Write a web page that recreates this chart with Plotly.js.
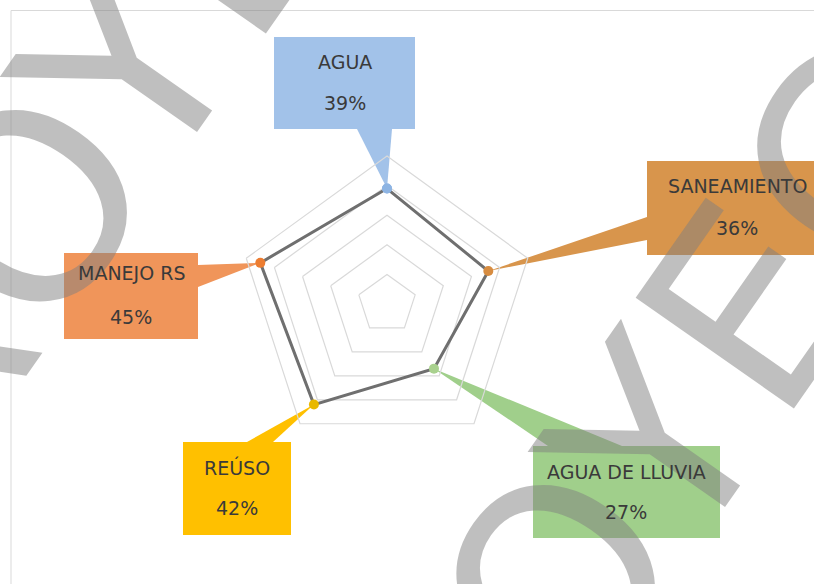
<!DOCTYPE html>
<html>
<head>
<meta charset="utf-8">
<script src="https://cdn.plot.ly/plotly-3.0.1.min.js"></script>
<style>
  html, body { margin: 0; padding: 0; background: #ffffff; }
  #chart { width: 814px; height: 584px; }
</style>
</head>
<body>
<div id="chart"></div>
<script>
// ---- data ----
const categories = ['AGUA', 'SANEAMIENTO', 'AGUA DE LLUVIA', 'REÚSO', 'MANEJO RS'];
const values = [39, 36, 27, 42, 45];
const pointColors = ['#8db4e3', '#d78c40', '#a9d18e', '#e8b800', '#ed7d31'];
const boxColors = ['#a2c2e9', '#d8954c', '#a0cf8b', '#ffc000', '#f0955a'];
const watermarkText = 'PROYECTO';

// ---- layout helpers (positions in pixels) ----
const W = 814, H = 584;
// callout boxes [x0, y0, x1, y1]
const boxes = [
  [274, 37, 415, 129],
  [647, 161, 830, 255],
  [533, 446, 720, 538],
  [183, 442, 291, 535],
  [64, 253, 198, 339]
];
// wedge base points on the box edge
const wedgeBase = [
  [[357, 129], [392, 129]],
  [[647, 217], [647, 240]],
  [[548, 446], [622, 446]],
  [[247, 442], [273, 442]],
  [[198, 265], [198, 287]]
];
// label centers: [x, yName, yValue]
const labelPos = [
  [344.5, 62, 103],
  [737, 186, 228],
  [626, 472, 512],
  [237, 467, 508],
  [131, 273, 317]
];
// watermark centers
const watermarkPos = [[182, -7], [710, 368]];

const px = x => x / W;
const py = y => 1 - y / H;

const rMax = 50;
const trace = {
  type: 'scatterpolar',
  r: values.concat([values[0]]),
  theta: categories.concat([categories[0]]),
  mode: 'lines+markers',
  line: { color: '#6f6f6f', width: 3 },
  marker: { size: 10, color: pointColors.concat([pointColors[0]]) },
  hoverinfo: 'skip'
};

const labelFont = { family: '"DejaVu Sans", sans-serif', size: 19, color: '#3a3a3a' };
const annotations = [];
watermarkPos.forEach(([x, y]) => {
  annotations.push({
    xref: 'paper', yref: 'paper', x: px(x), y: py(y),
    xanchor: 'center', yanchor: 'middle', showarrow: false,
    text: watermarkText, textangle: -55,
    font: { family: '"DejaVu Sans", sans-serif', size: 265, color: 'rgba(128,128,128,0.5)' }
  });
});
categories.forEach((c, i) => {
  const [x, y1, y2] = labelPos[i];
  annotations.push({ xref: 'paper', yref: 'paper', x: px(x), y: py(y1), xanchor: 'center', yanchor: 'middle',
    showarrow: false, text: c, font: labelFont });
  annotations.push({ xref: 'paper', yref: 'paper', x: px(x), y: py(y2), xanchor: 'center', yanchor: 'middle',
    showarrow: false, text: values[i] + '%', font: labelFont });
});

const layout = {
  width: W, height: H,
  margin: { l: 0, r: 0, t: 0, b: 0 },
  paper_bgcolor: '#ffffff',
  showlegend: false,
  polar: {
    domain: { x: [px(239), px(535)], y: [py(452), py(156)] },
    bgcolor: 'rgba(0,0,0,0)',
    gridshape: 'linear',
    radialaxis: {
      range: [0, rMax], dtick: 10, showticklabels: false, ticks: '',
      showline: false, gridcolor: '#d9d9d9', gridwidth: 1.2
    },
    angularaxis: {
      direction: 'clockwise', rotation: 90, showgrid: false,
      showticklabels: false, ticks: '', showline: true,
      linecolor: '#d9d9d9', linewidth: 1.2
    }
  },
  annotations: annotations,
  shapes: []
};

function buildShapes(cx, cy, R) {
  const shapes = [];
  shapes.push({ type: 'rect', xref: 'paper', yref: 'paper', x0: px(11), x1: px(830), y0: py(10.5), y1: py(600),
    line: { color: '#d9d9d9', width: 1 }, fillcolor: 'rgba(0,0,0,0)', layer: 'below' });
  categories.forEach((c, i) => {
    const ang = (90 - i * 360 / categories.length) * Math.PI / 180;
    const rr = R * values[i] / rMax;
    const tx = cx + rr * Math.cos(ang), ty = cy - rr * Math.sin(ang);
    const [[ax, ay], [bx, by]] = wedgeBase[i];
    shapes.push({ type: 'path', xref: 'paper', yref: 'paper', layer: 'below',
      path: `M${px(tx)},${py(ty)} L${px(ax)},${py(ay)} L${px(bx)},${py(by)} Z`,
      fillcolor: boxColors[i], line: { width: 0 } });
    const b = boxes[i];
    shapes.push({ type: 'rect', xref: 'paper', yref: 'paper', layer: 'below',
      x0: px(b[0]), x1: px(b[2]), y0: py(b[3]), y1: py(b[1]),
      fillcolor: boxColors[i], line: { width: 0 } });
  });
  return shapes;
}

const gd = document.getElementById('chart');
Plotly.newPlot(gd, [trace], layout, { staticPlot: true, displayModeBar: false }).then(() => {
  let cx = 387, cy = 304, R = 148;
  try {
    const sp = gd._fullLayout.polar._subplot;
    if (sp && isFinite(sp.cx) && isFinite(sp.radius)) { cx = sp.cx; cy = sp.cy; R = sp.radius; }
  } catch (e) {}
  return Plotly.relayout(gd, { shapes: buildShapes(cx, cy, R) });
});
</script>
</body>
</html>
